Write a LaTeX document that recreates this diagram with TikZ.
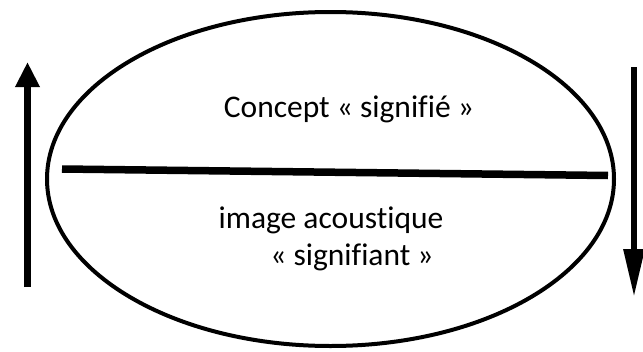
\documentclass[tikz,border=0pt]{standalone}
\usepackage{fontspec}
\setmainfont{Carlito}[Ligatures=NoCommon]
\usetikzlibrary{shapes.geometric,arrows.meta,positioning}

\begin{document}
\begin{tikzpicture}[
        x=1pt, y=-1pt,
        signe/.style={ellipse, draw, line width=4pt, minimum width=567pt, minimum height=334pt, inner sep=0pt},
        barre/.style={line width=7.5pt},
        label/.style={font=\fontsize{31.5}{36}\selectfont, inner sep=0pt, anchor=base},
        uparrow/.style={line width=7pt, -{Triangle[length=25pt, width=23pt]}},
        downarrow/.style={line width=6pt, -{Triangle[length=48pt, width=20pt]}}
    ]
        \useasboundingbox (0,0) rectangle (643,351);

        % Ellipse
        \node[signe] (sign) at (330.5,179) {};

        % Separation line
        \coordinate (barL) at (62,169);
        \coordinate (barR) at (608,175.5);
        \draw[barre] (barL) -- (barR);

        % Texts
        \node[label] (signifie) at (349,117) {Concept « signifié »};
        \node[label] (image) at (331,228) {image acoustique};
        \node[label] (signifiant) at (352,265) {« signifiant »};

        % Arrows
        \coordinate (upS) at (27.5,287);
        \coordinate (upE) at (27.5,62);
        \draw[uparrow] (upS) -- (upE);
        \coordinate (downS) at (634,67);
        \coordinate (downE) at (634,297);
        \draw[downarrow] (downS) -- (downE);

    \end{tikzpicture}
\end{document}
